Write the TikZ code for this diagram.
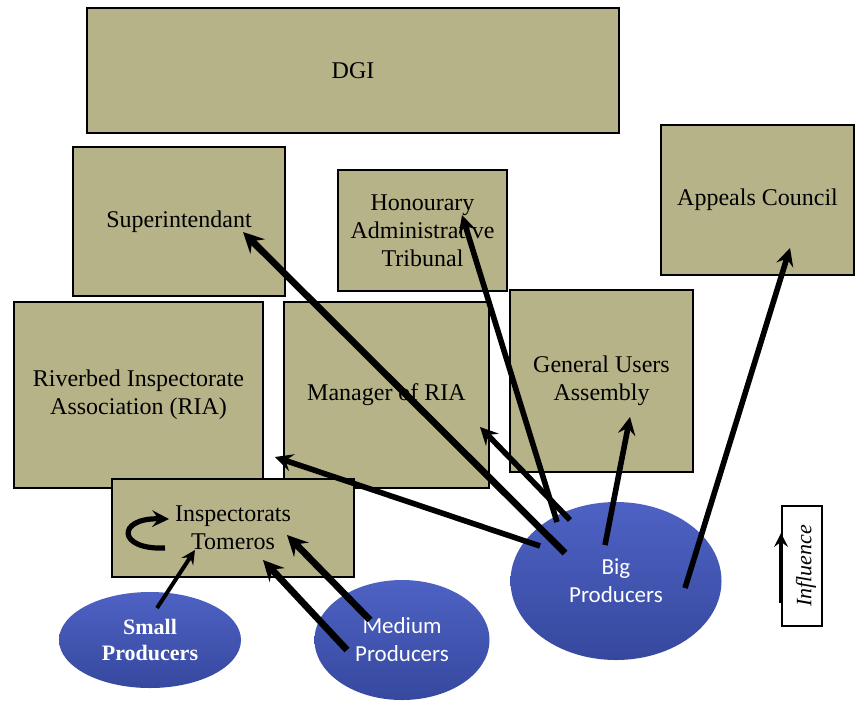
\documentclass[tikz,border=0pt]{standalone}
\usepackage{fontspec}
\setmainfont{Liberation Serif}
\newfontfamily\calibri{Carlito}
\usetikzlibrary{shapes.geometric, arrows, calc}
\definecolor{khaki}{RGB}{182,179,136}
\definecolor{bluetop}{RGB}{78,98,196}
\definecolor{bluebot}{RGB}{54,72,158}

\begin{document}
\begin{tikzpicture}[x=0.5pt,y=-0.5pt]
			\tikzstyle{Box} = [rectangle, text centered, align=center, draw=black, line width=1.3pt, fill=khaki, font=\fontsize{12}{14}\selectfont]
			\tikzstyle{Producer} = [ellipse, text centered, align=center, draw=none, top color=bluetop, bottom color=bluebot, text=white]
			\tikzstyle{arrow} = [line width=2.8pt,->,>=stealth]
			\tikzstyle{thinarrow} = [line width=2pt,->,>=stealth]

			\useasboundingbox (0,0) rectangle (856,703);

			% boxes
			\node (dgi) [Box, minimum width=266pt, minimum height=62.5pt] at (353,70.5) {DGI};
			\node (super) [Box, minimum width=106pt, minimum height=74.5pt] at (179,221.5) {Superintendant};
			\node (hon) [Box, minimum width=84.5pt, minimum height=60.5pt] at (422.5,230.5) {Honourary\\Administrative\\Tribunal};
			\node (appeals) [Box, minimum width=96.5pt, minimum height=75pt] at (757.5,200) {Appeals Council};
			\node (ria) [Box, minimum width=124.5pt, minimum height=93pt] at (138.5,395) {Riverbed Inspectorate\\Association (RIA)};
			\node (manager) [Box, minimum width=102.5pt, minimum height=93pt] at (386.5,395) {Manager of RIA};
			\node (general) [Box, minimum width=91.5pt, minimum height=91pt] at (601.5,381) {General Users\\Assembly};
			\node (insp) [Box, minimum width=121pt, minimum height=49pt] at (233,528) {Inspectorats\\Tomeros};

			% producers
			\node (small) [Producer, minimum width=91pt, minimum height=48pt, font=\bfseries\fontsize{11}{13}\selectfont] at (150,640) {Small\\Producers};
			\node (medium) [Producer, minimum width=87.5pt, minimum height=60pt, font=\calibri\fontsize{11.5}{14}\selectfont] at (402,640) {Medium\\Producers};
			\node (big) [Producer, minimum width=105.5pt, minimum height=79pt, font=\calibri\fontsize{11.5}{14}\selectfont] at (616,581) {Big\\Producers};

			% legend
			\node (legend) [rectangle, draw=black, line width=1pt, fill=white, minimum width=20pt, minimum height=60pt] at (802,566) {};
			\node (legendtext) [rotate=90, font=\itshape\fontsize{11}{13}\selectfont] at (806,566) {Influence};
			\draw [thinarrow] ($(legend.west)+(0,37)$) -- ($(legend.west)+(0,-33)$);

			% influence of the producers
			\draw [thinarrow] ($(small.center)+(7,-32)$) -- ($(insp.center)+(-38,22)$);
			\draw [arrow, line width=3.4pt] ($(medium.center)+(-32,-20)$) -- ($(insp.center)+(54,7)$);
			\draw [arrow, line width=3.4pt] ($(medium.center)+(-55,10)$) -- ($(insp.center)+(30,32)$);
			\draw [thinarrow, line width=2.6pt] ($(insp.center)+(-68,20)$) .. controls ($(insp.center)+(-116,22)$) and ($(insp.center)+(-116,-10)$) .. ($(insp.center)+(-64,-9)$);
			\draw [arrow, line width=3.4pt] ($(big.center)+(-51,-28)$) -- ($(super.center)+(64,10.5)$);
			\draw [arrow] ($(big.center)+(-76,-35)$) -- ($(ria.center)+(136.5,62)$);
			\draw [arrow] ($(big.center)+(-46,-61)$) -- ($(manager.center)+(93.5,32)$);
			\draw [arrow] ($(big.center)+(-59,-59)$) -- ($(hon.center)+(39.5,-15.5)$);
			\draw [arrow] ($(big.center)+(-11,-36)$) -- ($(general.center)+(28.5,36)$);
			\draw [arrow] ($(big.center)+(69,7)$) -- ($(appeals.center)+(32.5,48)$);
		\end{tikzpicture}
\end{document}
